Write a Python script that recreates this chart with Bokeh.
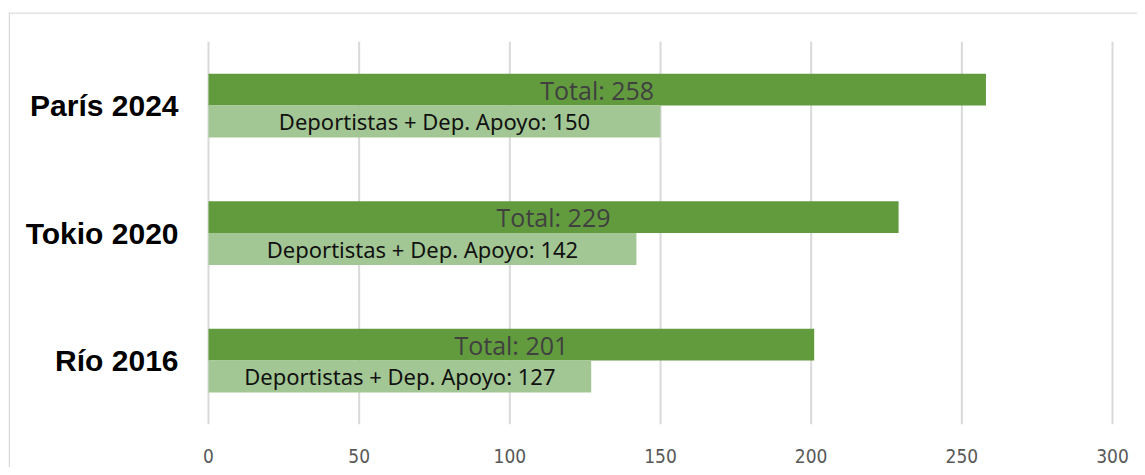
from bokeh.plotting import figure
from bokeh.models import Range1d
from bokeh.embed import file_html
from bokeh.resources import INLINE
from bokeh.core.properties import value

# Data
games = ["Río 2016", "Tokio 2020", "París 2024"]
totals = [201, 229, 258]
deportistas = [127, 142, 150]
x_ticks = [0, 50, 100, 150, 200, 250, 300]

DARK = "#629B3E"
LIGHT = "#A3C794"
GRID = "#D9D9D9"

px_per_unit = 150.67 / 50.0
W, H = 1137, 467
LEFT, TOP = 8, 12
fw = W - LEFT
fh = H - TOP
x_start = (8 - 208) / px_per_unit
x_end = x_start + fw / px_per_unit
unit_y = 127.5
y_end = 2 + (105 - 12) / unit_y
y_start = y_end - fh / unit_y

p = figure(width=W, height=H, output_backend="svg", toolbar_location=None,
           x_range=Range1d(x_start, x_end), y_range=Range1d(y_start, y_end),
           x_axis_location=None, y_axis_location=None,
           min_border_left=LEFT, min_border_right=0, min_border_top=TOP, min_border_bottom=0)
p.xgrid.visible = False
p.ygrid.visible = False
p.outline_line_color = None
p.background_fill_color = "white"
p.border_fill_color = "white"

# chart border (left and top visible)
p.segment(x0=[x_start + 0.25, x_start], y0=[y_start, y_end - 0.004],
          x1=[x_start + 0.25, x_end], y1=[y_end, y_end - 0.004],
          line_color=GRID, line_width=1.5)

ys = list(range(len(games)))

# grid lines
p.segment(x0=x_ticks, y0=[-0.5] * len(x_ticks), x1=x_ticks, y1=[2.5] * len(x_ticks),
          line_color=GRID, line_width=2)

bh = 0.25
p.hbar(y=[y + bh / 2 for y in ys], right=totals, left=0, height=bh,
       fill_color=DARK, line_color=None)
p.hbar(y=[y - bh / 2 for y in ys], right=deportistas, left=0, height=bh,
       fill_color=LIGHT, line_color=None)

p.text(x=[t / 2 for t in totals], y=[y + bh / 2 for y in ys],
       text=[f"Total: {t}" for t in totals],
       text_align="center", text_baseline="middle",
       text_font=value("Open Sans"), text_font_size="25px", text_color="#404040")
p.text(x=[d / 2 for d in deportistas], y=[y - bh / 2 for y in ys],
       text=[f"Deportistas + Dep. Apoyo: {d}" for d in deportistas],
       text_align="center", text_baseline="middle",
       text_font=value("Noto Sans"), text_font_size="22px", text_color="#111111")

# category labels
p.text(x=[(178 - 208) / px_per_unit] * len(games), y=ys, text=games,
       text_align="right", text_baseline="middle",
       text_font=value("Liberation Sans"), text_font_style="bold",
       text_font_size="30px", text_color="black")

# x tick labels
p.text(x=x_ticks, y=[-(455 - 360) / unit_y] * len(x_ticks),
       text=[str(t) for t in x_ticks],
       text_align="center", text_baseline="middle",
       text_font=value("DejaVu Sans Condensed, Roboto, sans-serif"), text_font_size="19px",
       text_color="#595959")

open("out.html", "w").write(file_html(p, INLINE))
